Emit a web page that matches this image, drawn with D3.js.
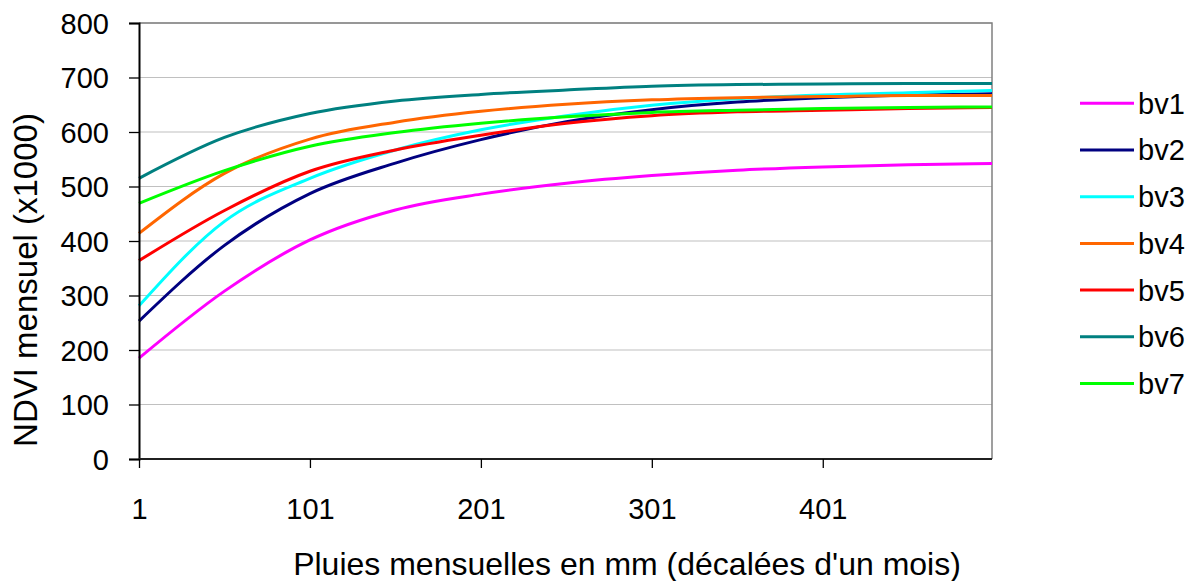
<!DOCTYPE html>
<html><head><meta charset="utf-8">
<script src="https://cdn.jsdelivr.net/npm/d3@7"></script>
<style>
html,body{margin:0;padding:0;background:#fff;}
svg{display:block;font-family:"Liberation Sans",Arial,sans-serif;}
</style></head>
<body>
<svg id="chart" width="1199" height="581"></svg>
<script>
const xValues = [1, 51, 101, 151, 201, 251, 301, 351, 401, 451, 500];
const seriesNames = ["bv1","bv2","bv3","bv4","bv5","bv6","bv7"];
const bv1 = [185, 308, 402, 457, 486, 506, 520, 530, 536, 540, 542];
const bv2 = [253, 392, 487, 543, 586, 619, 641, 655, 663, 668, 670];
const bv3 = [281, 436, 515, 567, 604, 630, 649, 661, 668, 672, 676];
const bv4 = [414, 524, 587, 618, 638, 651, 659, 663, 665, 667, 667];
const bv5 = [364, 456, 528, 567, 594, 616, 630, 637, 640, 643, 645];
const bv6 = [515, 590, 634, 657, 669, 677, 684, 687, 688, 689, 689];
const bv7 = [469, 529, 574, 599, 616, 628, 636, 640, 643, 645, 646];
const colors = ["#FF00FF","#000080","#00FFFF","#FF6600","#FF0000","#008080","#00FF00"];
const xTicks = [1, 101, 201, 301, 401];
const yTicks = [0, 100, 200, 300, 400, 500, 600, 700, 800];
const xTitle = "Pluies mensuelles en mm (décalées d'un mois)";
const yTitle = "NDVI mensuel (x1000)";

const allSeries = [bv1,bv2,bv3,bv4,bv5,bv6,bv7];
const svg = d3.select("#chart");
const L = 139, R = 992, T = 23, B = 459;
const x = d3.scaleLinear().domain([1, 500]).range([L, R]);
const y = d3.scaleLinear().domain([0, 800]).range([B, T]);

// gridlines
svg.append("g").selectAll("line").data(yTicks.filter(d => d > 0)).join("line")
  .attr("x1", L).attr("x2", R)
  .attr("y1", d => y(d)).attr("y2", d => y(d))
  .attr("stroke", "#c0c0c0").attr("stroke-width", 1.2);

// plot border (top/right)
svg.append("path")
  .attr("d", `M${L},${T}H${R}V${B}`)
  .attr("fill", "none").attr("stroke", "#808080").attr("stroke-width", 1.5);

// lines
const line = d3.line().x((d, i) => x(xValues[i])).y(d => y(d)).curve(d3.curveMonotoneX);
svg.append("g").selectAll("path").data(allSeries).join("path")
  .attr("d", d => line(d))
  .attr("fill", "none")
  .attr("stroke", (d, i) => colors[i])
  .attr("stroke-width", 3)
  .attr("stroke-linejoin", "round");

// y axis
const yAxis = svg.append("g").attr("transform", `translate(${L},0)`)
  .call(d3.axisLeft(y).tickValues(yTicks).tickSize(10).tickPadding(20).tickFormat(d3.format("d")));
yAxis.select(".domain").attr("stroke", "#000").attr("stroke-width", 2);
yAxis.selectAll(".tick line").attr("stroke", "#000").attr("stroke-width", 1.3);
yAxis.selectAll("text").attr("font-size", 29).attr("fill", "#000")
  .attr("font-family", "'Liberation Sans',Arial,sans-serif").attr("dy", "0.36em");

// x axis
const xAxis = svg.append("g").attr("transform", `translate(0,${B})`)
  .call(d3.axisBottom(x).tickValues(xTicks).tickSize(9).tickPadding(30).tickFormat(d3.format("d")));
xAxis.select(".domain").attr("stroke", "#202020").attr("stroke-width", 2).attr("d", `M${L},0H${R}`);
xAxis.selectAll(".tick line").attr("stroke", "#000").attr("stroke-width", 1.3);
xAxis.selectAll("text").attr("font-size", 29).attr("fill", "#000")
  .attr("font-family", "'Liberation Sans',Arial,sans-serif");

// axis titles
svg.append("text").attr("x", 627).attr("y", 575).attr("text-anchor", "middle")
  .attr("font-size", 32).attr("fill", "#000").text(xTitle);
svg.append("text").attr("transform", "translate(37,280) rotate(-90)").attr("text-anchor", "middle")
  .attr("font-size", 33).attr("fill", "#000").text(yTitle);

// legend
const lg = svg.append("g").selectAll("g").data(seriesNames).join("g")
  .attr("transform", (d, i) => `translate(1080,${103.3 + i * 46.7})`);
lg.append("line").attr("x1", 0).attr("x2", 54).attr("y1", 0).attr("y2", 0)
  .attr("stroke", (d, i) => colors[i]).attr("stroke-width", 3);
lg.append("text").attr("x", 58).attr("y", 0).attr("dy", "0.36em")
  .attr("font-size", 29).attr("fill", "#000").text(d => d);
</script>
</body></html>
